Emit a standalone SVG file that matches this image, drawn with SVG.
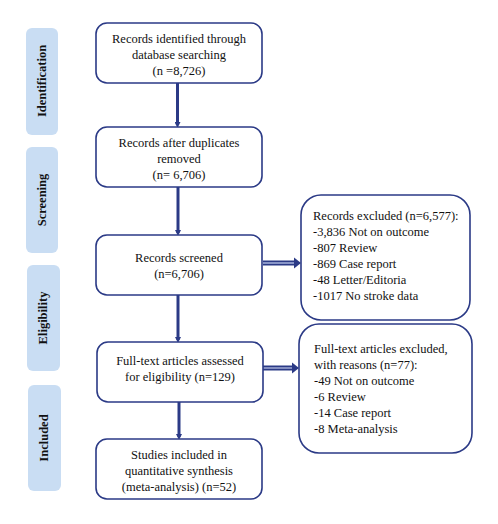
<svg xmlns="http://www.w3.org/2000/svg" width="498" height="524" viewBox="0 0 498 524">
<style>
.bg{fill:#ffffff}
.stage{fill:#c9ddf3;stroke:none}
.stxt{font-family:"Liberation Serif","Times New Roman","DejaVu Serif",serif;font-weight:bold;font-size:12.5px;fill:#111;text-anchor:middle}
.box{fill:#ffffff;stroke:#2b3a86;stroke-width:1.6}
.t{font-family:"Liberation Serif","Times New Roman","DejaVu Serif",serif;font-size:12.5px;fill:#111}
.c{text-anchor:middle}
.v{stroke:#2b3a86;stroke-width:3;fill:none}
.hz{stroke:#2b3a86;stroke-width:5;fill:none}
.hzi{stroke:#a9b4dc;stroke-width:1.4;fill:none}
.head{fill:#2b3a86}
</style>
<defs>
<marker id="ah" markerWidth="6" markerHeight="6" refX="3" refY="3" orient="auto" markerUnits="userSpaceOnUse">
<path d="M0,0 L6,3 L0,6 Z" class="head"/>
</marker>
</defs>
<rect class="bg" x="0" y="0" width="498" height="524"/>
<g id="stages">
<g id="stage-identification"><rect class="stage" x="26" y="28" width="32" height="107" rx="6"/><text class="stxt" transform="translate(46,81) rotate(-90)">Identification</text></g>
<g id="stage-screening"><rect class="stage" x="26" y="147" width="32" height="106" rx="6"/><text class="stxt" transform="translate(46,200) rotate(-90)">Screening</text></g>
<g id="stage-eligibility"><rect class="stage" x="27" y="265" width="33" height="106" rx="6"/><text class="stxt" transform="translate(47,318) rotate(-90)">Eligibility</text></g>
<g id="stage-included"><rect class="stage" x="28" y="385" width="33" height="106" rx="6"/><text class="stxt" transform="translate(48,438) rotate(-90)">Included</text></g>
</g>
<g id="connectors">
<line class="v" x1="177.5" y1="83" x2="177.5" y2="125" marker-end="url(#ah)"/>
<line class="v" x1="178" y1="187" x2="178" y2="233" marker-end="url(#ah)"/>
<line class="v" x1="178" y1="295" x2="178" y2="340" marker-end="url(#ah)"/>
<line class="v" x1="179" y1="402" x2="179" y2="437" marker-end="url(#ah)"/>
<g id="arrow-excl1">
<line class="hz" x1="263" y1="263" x2="295" y2="263"/>
<line class="hzi" x1="263" y1="263" x2="296" y2="263"/>
<path class="head" d="M294,257.5 L301,263 L294,268.5 Z"/>
</g>
<g id="arrow-excl2">
<line class="hz" x1="263" y1="368" x2="293" y2="368"/>
<line class="hzi" x1="263" y1="368" x2="294" y2="368"/>
<path class="head" d="M292,362.5 L299,368 L292,373.5 Z"/>
</g>
</g>
<g id="node-identified">
<rect class="box" x="96" y="23" width="166" height="60" rx="11"/>
<text class="t c" x="179" y="43">Records identified through</text>
<text class="t c" x="179" y="59">database searching</text>
<text class="t c" x="179" y="75">(n =8,726)</text>
</g>
<g id="node-duplicates">
<rect class="box" x="96" y="127" width="166" height="60" rx="11"/>
<text class="t c" x="179" y="147">Records after duplicates</text>
<text class="t c" x="179" y="163">removed</text>
<text class="t c" x="179" y="179">(n= 6,706)</text>
</g>
<g id="node-screened">
<rect class="box" x="96" y="235" width="166" height="60" rx="11"/>
<text class="t c" x="179" y="262">Records screened</text>
<text class="t c" x="179" y="278">(n=6,706)</text>
</g>
<g id="node-fulltext">
<rect class="box" x="97" y="342" width="166" height="60" rx="11"/>
<text class="t c" x="180" y="365">Full-text articles assessed</text>
<text class="t c" x="180" y="381">for eligibility (n=129)</text>
</g>
<g id="node-included">
<rect class="box" x="96" y="439" width="166" height="60" rx="11"/>
<text class="t c" x="179" y="459">Studies included in</text>
<text class="t c" x="179" y="475">quantitative synthesis</text>
<text class="t c" x="179" y="491">(meta-analysis) (n=52)</text>
</g>
<g id="node-excluded1">
<rect class="box" x="301" y="195" width="169" height="125" rx="20"/>
<text class="t" x="313" y="220">Records excluded (n=6,577):</text>
<text class="t" x="313" y="236">-3,836 Not on outcome</text>
<text class="t" x="313" y="252">-807 Review</text>
<text class="t" x="313" y="268">-869 Case report</text>
<text class="t" x="313" y="284">-48 Letter/Editoria</text>
<text class="t" x="313" y="300">-1017 No stroke data</text>
</g>
<g id="node-excluded2">
<rect class="box" x="299" y="324" width="173" height="129" rx="20"/>
<text class="t" x="314" y="353">Full-text articles excluded,</text>
<text class="t" x="314" y="369">with reasons (n=77):</text>
<text class="t" x="314" y="385">-49 Not on outcome</text>
<text class="t" x="314" y="401">-6 Review</text>
<text class="t" x="314" y="417">-14 Case report</text>
<text class="t" x="314" y="433">-8 Meta-analysis</text>
</g>
</svg>
